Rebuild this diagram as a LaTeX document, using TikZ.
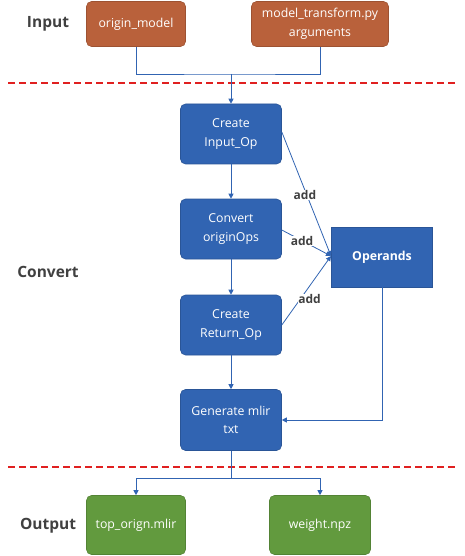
\documentclass[tikz,border=0pt]{standalone}
\usepackage{fontspec}
\setmainfont{Open Sans}
\usetikzlibrary{shapes,arrows.meta,calc,positioning,backgrounds}

\definecolor{inorange}{HTML}{B9613B}
\definecolor{convblue}{HTML}{3164B2}
\definecolor{outgreen}{HTML}{629A3E}
\definecolor{labelgray}{HTML}{404040}
\definecolor{cutred}{RGB}{224,32,32}

\tikzset{
  box/.style={draw=#1!85!black, fill=#1, rounded corners=5pt, text=white,
    align=center, line width=0.6pt, inner sep=2pt,
    font=\fontsize{12.3}{18.5}\selectfont},
  stage/.style={font=\fontsize{15.5}{17}\selectfont\bfseries, text=labelgray},
  addlabel/.style={font=\fontsize{12}{13}\selectfont\bfseries, text=labelgray,
    fill=white, inner sep=0.5pt},
  flow/.style={draw=convblue, line width=0.8pt, -{Triangle[width=5pt,length=5pt]}},
  cutline/.style={draw=cutred, line width=1.2pt, dash pattern=on 7pt off 4pt}
}

\begin{document}
\begin{tikzpicture}[x=1pt, y=-1pt]
  \useasboundingbox (0,0) rectangle (464,556);

  % input
  \node[stage] (input) at (48,24) {Input};
  \node[box=inorange, minimum width=99pt, minimum height=45pt] (model) at (136,24) {origin\_model};
  \node[box=inorange, minimum width=137pt, minimum height=45pt] (args) at (320,24) {model\_transform.py\\arguments};

  \draw[cutline] (8,83) -- (456,83);

  % convert
  \node[stage] (convert) at (48,272) {Convert};
  \node[box=convblue, minimum width=101pt, minimum height=60pt] (inputop) at (231,134) {Create\\Input\_Op};
  \node[box=convblue, minimum width=101pt, minimum height=60pt] (convops) at (231,229) {Convert\\originOps};
  \node[box=convblue, minimum width=101pt, minimum height=60pt] (returnop) at (231,325) {Create\\Return\_Op};
  \node[box=convblue, minimum width=101pt, minimum height=61pt] (gen) at (231,420) {Generate mlir\\txt};
  \node[box=convblue, rounded corners=0pt, minimum width=101pt, minimum height=60pt,
    font=\fontsize{12.3}{13}\selectfont\bfseries] (operands) at (382,257) {Operands};

  \coordinate (join) at (231,74);
  \draw[draw=convblue, line width=0.8pt] (model.south) |- (join) -| (args.south);
  \draw[flow] (join) -- (inputop.north);
  \draw[flow] (inputop) -- (convops);
  \draw[flow] (convops) -- (returnop);
  \draw[flow] (returnop) -- (gen);

  \coordinate (hit) at (331,256);
  \draw[flow] (inputop.north east |- 0,132) -- node[addlabel, pos=0.51, xshift=-2pt] (add1) {add} (hit);
  \draw[flow] (convops.east |- 0,230) -- node[addlabel, pos=0.41] (add2) {add} (hit);
  \draw[flow] (returnop.east |- 0,325) -- node[addlabel, pos=0.38, xshift=9pt] (add3) {add} (hit);
  \draw[flow] (operands.south) |- (gen.east);

  \draw[cutline] (8,467) -- (456,467);

  % output
  \node[stage] (output) at (48,526) {Output};
  \node[box=outgreen, minimum width=99pt, minimum height=59pt] (mlir) at (136,525) {top\_orign.mlir};
  \node[box=outgreen, minimum width=101pt, minimum height=59pt] (weight) at (320,525) {weight.npz};

  \coordinate (split) at (231,478);
  \draw[draw=convblue, line width=0.8pt] (gen.south) -- (split);
  \draw[flow] (split) -| (mlir.north);
  \draw[flow] (split) -| (weight.north);
\end{tikzpicture}
\end{document}
